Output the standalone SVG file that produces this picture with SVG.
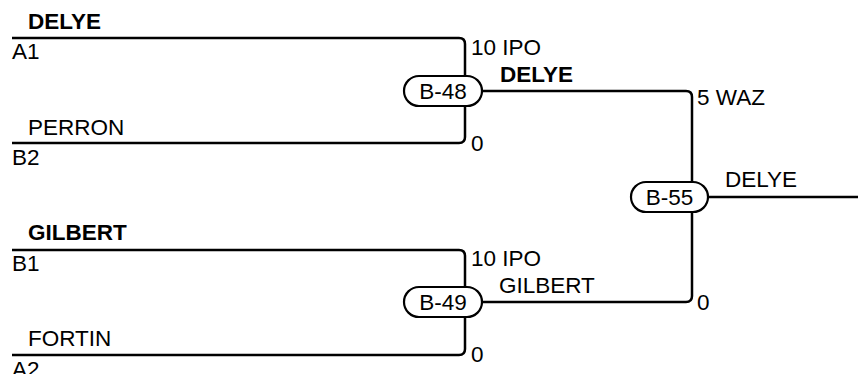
<svg xmlns="http://www.w3.org/2000/svg" width="858" height="374" viewBox="0 0 858 374">
<style>
.ln{fill:none;stroke:#000;stroke-width:2.5}
.pill{fill:#fff;stroke:#000;stroke-width:2.2}
text{font-family:"Liberation Sans",Arial,sans-serif;font-size:22.5px;fill:#000}
.b{font-weight:bold}
.c{text-anchor:middle}
</style>
<rect width="858" height="374" fill="#fff"/>
<g id="connectors">
<path class="ln" d="M12,38 H459 Q465,38 465,44 V137 Q465,143 459,143 H12"/>
<path class="ln" d="M12,250 H459 Q465,250 465,256 V349 Q465,355 459,355 H12"/>
<path class="ln" d="M482,91 H686 Q692,91 692,97 V296 Q692,302 686,302 H482"/>
<path class="ln" d="M708,197 H858"/>
</g>
<g id="labels">
<text class="b" x="28" y="29">DELYE</text>
<text x="12" y="59">A1</text>
<text x="28" y="135">PERRON</text>
<text x="12" y="165">B2</text>
<text class="b" x="28" y="240">GILBERT</text>
<text x="12" y="271">B1</text>
<text x="28" y="346">FORTIN</text>
<text x="12" y="377">A2</text>
<text x="471" y="55">10 IPO</text>
<text class="b" x="500" y="82">DELYE</text>
<text x="471" y="151">0</text>
<text x="471" y="266">10 IPO</text>
<text x="499" y="293">GILBERT</text>
<text x="471" y="362">0</text>
<text x="697" y="105">5 WAZ</text>
<text x="725" y="187">DELYE</text>
<text x="697" y="310">0</text>
</g>
<g id="B-48">
<rect class="pill" x="404" y="76" width="78" height="30" rx="15"/>
<text class="c" x="443" y="99">B-48</text>
</g>
<g id="B-49">
<rect class="pill" x="404" y="287" width="78" height="30" rx="15"/>
<text class="c" x="443" y="310">B-49</text>
</g>
<g id="B-55">
<rect class="pill" x="631" y="182" width="77" height="30" rx="15"/>
<text class="c" x="669.5" y="205">B-55</text>
</g>
</svg>
